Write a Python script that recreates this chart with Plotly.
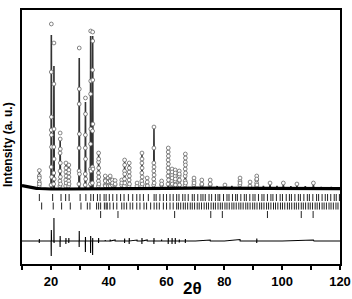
import numpy as np
import plotly.graph_objects as go

# ---------------- data (2theta in degrees, intensity in arbitrary units) -------------
bg_tt = [10, 11, 12, 13, 14, 15, 16, 18, 20, 25, 30, 40, 50, 60, 70, 80, 90, 100, 110, 120]
bg_int = [3.5, 2.8, 2.0, 1.4, 1.0, 0.7, 0.5, 0.2, 0, 0, 0, 0, 0.3, 0.6, 0.8, 0.8, 1.0, 0.8, 0.6, 0.3]

peak_tt = [16.0, 20.15, 21.05, 23.2, 25.2, 26.2, 29.8, 31.95, 33.75, 34.45,
           36.5, 38.8, 39.8, 40.5, 41.3, 42.2, 44.5, 45.5, 47.1, 49.8,
           51.5, 53.3, 55.65, 58.3, 60.6, 61.9, 63.0, 64.4, 66.5, 69.5,
           72.2, 75.1, 77.5, 80.2, 82.6, 85.4, 88.9, 91.2, 93.5, 95.8,
           98.2, 100.4, 103.0, 105.1, 108.0, 110.8, 113.5, 117.0]
calc_int = [17, 154, 123, 50, 24, 22, 131, 87, 153, 153,
            34, 12, 10, 12, 8, 8, 8, 27, 24, 5,
            34, 10, 61, 7, 39, 18, 17, 17, 34, 10,
            8, 8, 3, 4, 3, 10, 6, 12, 3, 5,
            3, 5, 3, 4, 3, 5, 2, 2]

obs_tt = [
    15.94, 15.96, 15.98, 16.00, 16.02, 16.04,
    20.05, 20.09, 20.11, 20.13, 20.15, 20.17, 20.19, 20.21, 20.25,
    20.95, 20.99, 21.01, 21.03, 21.05, 21.07, 21.09, 21.13,
    23.12, 23.14, 23.16, 23.18, 23.20, 23.22, 23.24, 23.26, 23.28, 23.32,
    25.12, 25.16, 25.18, 25.20, 25.22, 25.24, 25.28,
    26.12, 26.16, 26.18, 26.20, 26.22, 26.24, 26.28,
    29.70, 29.74, 29.76, 29.78, 29.80, 29.82, 29.84, 29.88,
    31.85, 31.89, 31.91, 31.93, 31.95, 31.97, 31.99, 32.03,
    33.65, 33.69, 33.71, 33.73, 33.75, 33.77, 33.79, 33.83,
    34.35, 34.39, 34.41, 34.43, 34.45, 34.47, 34.49, 34.51, 34.55,
    36.42, 36.44, 36.46, 36.48, 36.50, 36.52, 36.54, 36.56, 36.60,
    38.74, 38.78, 38.80, 38.82, 38.86,
    39.76, 39.80, 39.82, 39.86,
    40.44, 40.48, 40.50, 40.52, 40.56,
    41.26, 41.30, 41.32,
    42.16, 42.20, 42.22,
    44.46, 44.50, 44.52,
    45.42, 45.46, 45.48, 45.50, 45.52, 45.54, 45.58,
    47.02, 47.06, 47.08, 47.10, 47.12, 47.14, 47.18,
    49.76, 49.80,
    51.42, 51.44, 51.46, 51.48, 51.50, 51.52, 51.54, 51.56, 51.60,
    53.26, 53.30, 53.32, 53.36,
    55.55, 55.57, 55.59, 55.61, 55.63, 55.65, 55.67, 55.69, 55.71,
    58.26, 58.30, 58.32,
    60.50, 60.52, 60.54, 60.56, 60.58, 60.60, 60.62, 60.64, 60.66, 60.68,
    61.84, 61.86, 61.88, 61.90, 61.92, 61.94, 61.98,
    62.94, 62.96, 62.98, 63.00, 63.02, 63.04, 63.08,
    64.34, 64.36, 64.38, 64.40, 64.42, 64.44, 64.48,
    66.40, 66.42, 66.44, 66.46, 66.48, 66.50, 66.52, 66.54, 66.56, 66.60,
    69.44, 69.48, 69.50, 69.52,
    72.16, 72.20, 72.22,
    75.06, 75.10, 75.12,
    80.20,
    85.36, 85.40, 85.42, 85.44,
    88.86, 88.90,
    91.14, 91.16, 91.18, 91.20, 91.22, 91.26,
    95.80, 100.40, 105.10, 110.80,
]
obs_int = [
    3, 7, 13, 18.5, 11, 5,
    4, 22, 59, 117, 165, 72, 54, 42, 12,
    5, 16, 42, 105, 146, 60, 30, 10,
    3, 8, 18, 36, 56, 50, 40, 26, 12, 5,
    3, 9, 17, 26, 21, 13, 6,
    3, 8, 16, 24, 19, 12, 5,
    5, 18, 41, 85, 141, 100, 55, 15,
    4, 15, 41, 54, 91, 75, 30, 10,
    5, 20, 45, 95, 158, 108, 60, 18,
    6, 22, 58, 119, 157, 148, 109, 65, 20,
    3, 8, 16, 27, 36, 30, 21, 12, 5,
    4, 9, 13, 8, 3,
    4, 11, 7, 3,
    4, 9, 13, 8, 3,
    4, 9, 6,
    4, 8.5, 5,
    4, 9, 6,
    3, 10, 18, 29, 24, 15, 6,
    3, 9, 17, 26, 21, 13, 5,
    3, 6,
    3, 8, 16, 26, 36, 30, 21, 12, 5,
    4, 11, 7, 3,
    4, 10, 18, 26, 41, 62, 22, 14, 6,
    4, 8, 5,
    5, 13, 21, 29, 37, 41, 33, 25, 17, 9,
    4, 8, 14, 20, 17, 11, 5,
    4, 8, 13, 19, 16, 10, 4,
    4, 8, 13, 18, 15, 9, 4,
    4, 8, 13, 20, 27, 35, 31, 24, 16, 6,
    4, 8, 11, 6,
    4, 9, 5,
    4, 9, 5,
    4,
    4, 8, 11, 6,
    3, 7,
    3, 6, 9, 13, 10, 4,
    6, 6, 5, 6,
]

diff_tt = [10.0, 15.96, 15.98, 16.0, 16.02,
           20.07, 20.11, 20.15, 20.19, 20.23,
           20.99, 21.03, 21.05, 21.09, 21.13,
           23.14, 23.18, 23.2, 23.24,
           25.16, 25.18, 25.2, 25.24,
           26.16, 26.18, 26.2, 26.24,
           29.74, 29.78, 29.8, 29.84,
           31.89, 31.93, 31.95, 31.99,
           33.69, 33.73, 33.75, 33.79,
           34.39, 34.43, 34.45, 34.49,
           36.46, 36.48, 36.5, 36.54,
           38.78, 38.8, 38.82, 40.48, 40.5, 40.52, 42.2, 42.22,
           45.46, 45.48, 45.5, 45.54,
           47.06, 47.08, 47.1, 47.14, 49.8, 49.82,
           51.46, 51.48, 51.5, 51.54, 53.3, 53.32,
           55.61, 55.63, 55.65, 55.69,
           58.28, 58.3, 58.32,
           60.56, 60.58, 60.6, 60.64,
           61.88, 61.9, 61.92, 61.96,
           62.98, 63.0, 63.02, 63.06,
           64.38, 64.4, 64.42, 64.46,
           66.48, 66.5, 66.52, 66.56,
           70.0, 75.1, 75.14, 80.0, 85.42, 85.46,
           91.18, 91.2, 91.22, 91.26, 100.0, 110.8, 111.0, 120.0]
diff_val = [0, 0, -2, 2, 0,
            0, -15, 11, -4, 0,
            0, -1, 23, -2, 0,
            0, -6, 5, 0,
            0, -3, 3, 0,
            0, -2, 3, 0,
            0, -6, 10, 0,
            0, -11, 4, 0,
            0, -12, 5, 0,
            0, -14, 3, 0,
            0, -2, 3, 0,
            0, 1, 0, 0, 1.5, 0, 1, 0,
            0, -2, 2.5, 0,
            0, -3, 3, 0, 1, 0,
            0, -3, 3, 0, 1, 0,
            0, -3, 3, 0,
            0, 1.5, 0,
            0, -3, 3, 0,
            0, -3, 3, 0,
            0, -3, 3, 0,
            0, -1.5, 1.5, 0,
            0, -2, 2, 0,
            0, 1, 0, 0, 1.5, 0,
            0, -2, 2.5, 0, 0, 1, 0, 0]

phase1_ticks = [16.0, 20.6, 23.5, 25.1, 26.3, 30.1, 32.1, 33.8, 34.7, 36.1, 37.0, 38.4, 39.1,
                40.2, 41.4, 42.8, 44.1, 45.3, 46.8, 48.3, 49.7, 50.8, 52.0, 53.7, 55.7, 56.4,
                57.7, 58.9, 60.0, 61.2, 62.3, 63.5, 64.3, 65.6, 66.4, 67.5, 68.9, 69.6, 70.8,
                71.9, 72.6, 73.4, 74.7, 75.6, 76.9, 77.8, 78.4, 79.7, 80.9, 81.6, 82.8, 83.9,
                84.5, 85.7, 86.9, 87.6, 88.8, 89.9, 90.6, 91.8, 93.0, 93.7, 94.9, 96.1, 96.8,
                98.0, 99.3, 100.1, 101.4, 102.5, 103.2, 104.4, 105.6, 106.3, 107.5, 108.7,
                109.4, 110.6, 111.9, 112.6, 113.8, 114.9, 115.7, 116.8, 118.0, 118.7, 119.8]
phase2_ticks = [16.8, 20.8, 23.7, 26.7, 30.4, 32.6, 33.5, 35.8, 36.5, 37.2, 38.5, 39.1, 39.5,
                40.4, 41.6, 42.8, 44.5, 45.3, 46.2, 47.4, 48.3, 49.7, 50.8, 52.2, 53.1, 54.5,
                55.7, 56.6, 57.5, 58.9, 60.0, 61.2, 62.3, 63.5, 64.1, 64.9, 65.8, 66.5, 67.3,
                68.2, 68.9, 69.7, 70.6, 71.3, 72.1, 73.0, 73.8, 74.5, 75.4, 76.2, 76.9, 77.8,
                78.6, 79.3, 80.2, 80.9, 81.7, 82.6, 83.3, 84.1, 85.0, 85.7, 86.5, 87.4, 88.1,
                88.9, 89.8, 90.5, 91.3, 92.2, 92.9, 93.7, 94.6, 95.3, 96.1, 97.0, 97.7, 98.5,
                99.4, 100.1, 100.9, 101.8, 102.5, 103.3, 104.2, 104.9, 105.7, 106.6, 107.3,
                108.1, 109.0, 109.7, 110.5, 111.4, 112.1, 112.9, 113.8, 114.5, 115.3, 116.2,
                116.9, 117.7, 118.6, 119.3]
phase3_ticks = [37.2, 43.2, 62.8, 75.3, 79.3, 94.9, 106.6, 110.7]

x_ticks = [10, 20, 30, 40, 50, 60, 70, 80, 90, 100, 110, 120]
x_ticktext = ["", "20", "", "40", "", "60", "", "80", "", "100", "", "120"]

# ---------------- build calculated profile path from the peak list ----------------
pts = list(zip(bg_tt, bg_int))
for p, h in zip(peak_tt, calc_int):
    base = float(np.interp(p, bg_tt, bg_int))
    pts += [(p - 0.12, base), (p, h), (p + 0.12, base)]
pts.sort()
calc_x = [a for a, _ in pts]
calc_y = [b for _, b in pts]

FONT = "Liberation Sans, Arial, sans-serif"

fig = go.Figure()
fig.add_trace(go.Scatter(x=calc_x, y=calc_y, mode="lines",
                         line=dict(color="#333333", width=1.6), yaxis="y"))
fig.add_trace(go.Scatter(x=obs_tt, y=obs_int, mode="markers",
                         marker=dict(symbol="circle", size=3.8, color="white",
                                     line=dict(color="#666666", width=0.8)), yaxis="y"))
fig.add_trace(go.Scatter(x=bg_tt, y=bg_int, mode="lines",
                         line=dict(color="black", width=3.2), yaxis="y"))
fig.add_trace(go.Scatter(x=diff_tt, y=diff_val, mode="lines",
                         line=dict(color="black", width=1.1), yaxis="y2"))
for row, ticks in zip([-1, -2, -3], [phase1_ticks, phase2_ticks, phase3_ticks]):
    fig.add_trace(go.Scatter(x=ticks, y=[row] * len(ticks), mode="markers",
                             marker=dict(symbol="line-ns", size=5,
                                         line=dict(color="#222222", width=1.0)),
                             yaxis="y3"))

fig.update_layout(
    width=352, height=299,
    margin=dict(l=22, r=12, t=10, b=35, autoexpand=False),
    paper_bgcolor="white", plot_bgcolor="white",
    showlegend=False,
    font=dict(family=FONT, color="black"),
    xaxis=dict(range=[10, 120], showline=True, linecolor="black", linewidth=2,
               mirror=True, ticks="outside", ticklen=4, tickwidth=1.5,
               tickcolor="black", tickvals=x_ticks, ticktext=x_ticktext,
               tickfont=dict(family=FONT, size=13, weight="bold"),
               showgrid=False, zeroline=False, automargin=False),
    yaxis=dict(range=[-75, 179], showline=True, linecolor="black", linewidth=2,
               mirror=True, showticklabels=False, ticks="", showgrid=False,
               zeroline=False, automargin=False),
    yaxis2=dict(range=[-23, 231], overlaying="y", visible=False),
    yaxis3=dict(range=[-8.82, 21.06], overlaying="y", visible=False),
    annotations=[
        dict(text="Intensity (a. u.)", xref="paper", yref="paper",
             x=-0.044, y=0.4685, xanchor="center", yanchor="middle",
             textangle=-90, showarrow=False,
             font=dict(family=FONT, size=12, weight="bold")),
        dict(text="2θ", xref="paper", yref="paper",
             x=0.535, y=-0.0945, xanchor="center", yanchor="middle",
             showarrow=False, font=dict(family=FONT, size=17, weight="bold")),
    ],
)

fig.write_html("out.html")
